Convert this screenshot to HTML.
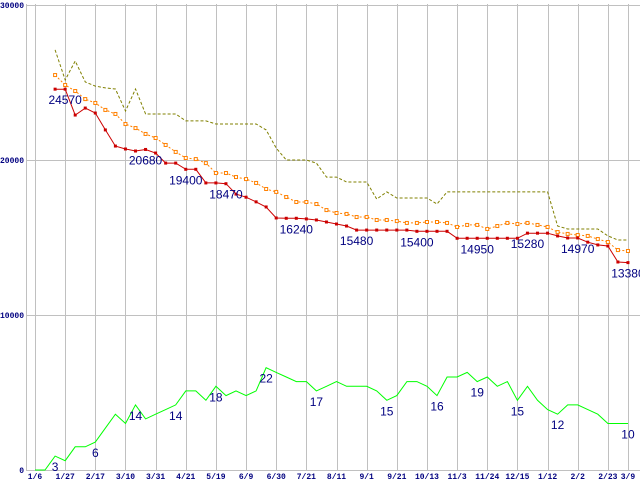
<!DOCTYPE html>
<html><head><meta charset="utf-8"><style>
html,body{margin:0;padding:0;background:#fff;}
svg text{font-family:"Liberation Mono",monospace;}
</style></head><body>
<svg id="chart" width="640" height="480" xmlns="http://www.w3.org/2000/svg" style="display:block">
<g id="grid"></g>
<g id="series"></g>
<g id="labels"></g>
</svg>
<script>
const xTickLabels=["1/6","1/27","2/17","3/10","3/31","4/21","5/19","6/9","6/30","7/21","8/11","9/1","9/21","10/13","11/3","11/24","12/15","1/12","2/2","2/23","3/9"];
const xTickWeeks=[0,3,6,9,12,15,18,21,24,27,30,33,36,39,42,45,48,51,54,57,59];
const yTicks=[0,10000,20000,30000];
const priceMin=[24570,24570,22900,23350,23030,21940,20900,20710,20580,20680,20450,19800,19800,19400,19400,18520,18520,18470,17800,17600,17300,16970,16260,16240,16240,16200,16130,16000,15870,15740,15480,15480,15480,15480,15480,15480,15400,15400,15400,15400,14950,14950,14950,14950,14950,14950,14950,15280,15280,15280,15100,14970,14970,14700,14520,14450,13420,13380];
const priceAvg=[25480,24840,24450,23930,23680,23230,22970,22320,22060,21680,21420,20970,20520,20130,20060,19800,19160,19160,18900,18770,18520,18130,17940,17610,17290,17290,17160,16770,16580,16520,16320,16320,16130,16130,16060,15940,15940,16000,16000,15940,15680,15810,15810,15550,15740,15940,15870,15940,15810,15680,15350,15230,15160,15100,14900,14710,14190,14130];
const priceMax=[27100,25160,26390,25030,24770,24650,24580,23160,24580,22970,22970,22970,22970,22520,22520,22520,22320,22320,22320,22320,22320,21940,20770,20000,20000,20000,19800,18900,18900,18580,18580,18580,17480,17940,17550,17550,17550,17550,17160,17940,17940,17940,17940,17940,17940,17940,17940,17940,17940,17940,15740,15550,15550,15550,15550,15100,14840,14840];
const shopCount=[0,0,3,2,5,5,6,9,12,10,14,11,12,13,14,17,17,15,18,16,17,16,17,22,21,20,19,19,17,18,19,18,18,18,17,15,16,19,19,18,16,20,20,21,19,20,18,19,15,18,15,13,12,14,14,13,12,10,10,10];
const priceLabelIdx=[1,9,13,17,24,30,36,42,47,52,57];
const countLabelIdx=[2,6,10,14,18,23,28,35,40,44,48,52,59];
const countScale=300;

const NS="http://www.w3.org/2000/svg";
function xW(w){return 35+10.05*w;}
function yV(v){return 470-v*0.0155;}
function mk(tag,attrs,parent){const e=document.createElementNS(NS,tag);for(const k in attrs)e.setAttribute(k,attrs[k]);parent.appendChild(e);return e;}
const grid=document.getElementById('grid'),ser=document.getElementById('series'),lab=document.getElementById('labels');

yTicks.forEach(v=>{
  const l=mk('line',{x1:26,x2:640,y1:yV(v)+0.5,y2:yV(v)+0.5,stroke:'#c0c0c0','stroke-width':1},grid);
  
  
  const t=mk('text',{x:v===0?24:0,y:yV(v)+3,'font-size':8,'font-weight':'bold',fill:'#000080','text-anchor':v===0?'end':'start'},lab);
  t.textContent=String(v);
  
  
});
const ax=mk('line',{x1:26.5,x2:26.5,y1:4,y2:470,stroke:'#c0c0c0','stroke-width':1},grid);


xTickWeeks.forEach((w,k)=>{
  const x=Math.round(xW(w))+0.5;
  const l=mk('line',{x1:x,x2:x,y1:4,y2:470,stroke:'#c0c0c0','stroke-width':1},grid);
  
  
  const t=mk('text',{x:xW(w),y:479,'font-size':8,'font-weight':'bold',fill:'#000080','text-anchor':'middle'},lab);
  t.textContent=xTickLabels[k];
  
  
});

function pts(arr,off,scale){return arr.map((v,i)=>xW(i+off).toFixed(1)+','+yV(v*scale).toFixed(1)).join(' ');}
const gl=mk('polyline',{points:pts(shopCount,0,countScale),fill:'none',stroke:'#00ff00','stroke-width':1},ser);


const ol=mk('polyline',{points:pts(priceMax,2,1),fill:'none',stroke:'#808000','stroke-width':1,'stroke-dasharray':'3,2'},ser);


const al=mk('polyline',{points:pts(priceAvg,2,1),fill:'none',stroke:'#ff8000','stroke-width':1,'stroke-dasharray':'2,2'},ser);


priceAvg.forEach((v,i)=>{
  const r=mk('rect',{x:xW(i+2)-1.5,y:yV(v)-1.5,width:3,height:3,fill:'#fff',stroke:'#ff8000','stroke-width':1},ser);
  
  
});
const rl=mk('polyline',{points:pts(priceMin,2,1),fill:'none',stroke:'#cc0000','stroke-width':1},ser);


priceMin.forEach((v,i)=>{
  const r=mk('rect',{x:xW(i+2)-1.5,y:yV(v)-1.5,width:3,height:3,fill:'#cc0000'},ser);
  
  
});
priceLabelIdx.forEach(i=>{
  const t=mk('text',{x:xW(i+2),y:yV(priceMin[i])+15,'font-size':12,fill:'#000080','text-anchor':'middle'},lab);
  t.setAttribute('style','font-family:"Liberation Sans",sans-serif');
  t.textContent=String(priceMin[i]);
  
  
});
countLabelIdx.forEach(j=>{
  const t=mk('text',{x:xW(j),y:yV(shopCount[j]*countScale)+15,'font-size':12,fill:'#000080','text-anchor':'middle'},lab);
  t.setAttribute('style','font-family:"Liberation Sans",sans-serif');
  t.textContent=String(shopCount[j]);
  
  
});
</script>
</body></html>
